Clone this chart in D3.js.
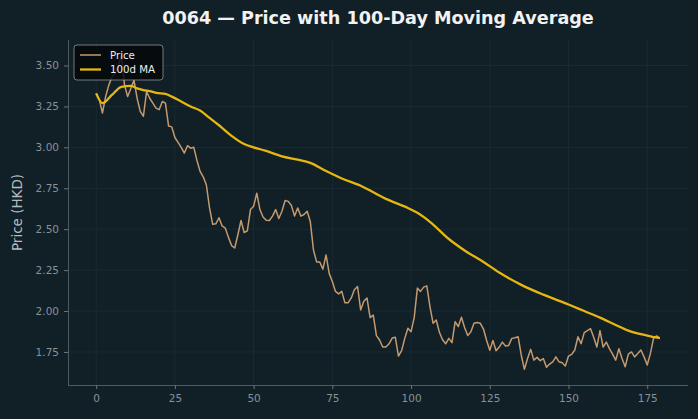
<!DOCTYPE html>
<html><head><meta charset="utf-8">
<script src="https://cdn.jsdelivr.net/npm/d3@7"></script>
<style>
html,body{margin:0;padding:0;background:#111f26;}
svg{display:block;font-family:"DejaVu Sans",sans-serif;}
</style></head><body>
<svg id="c" width="698" height="419"></svg>
<script>
const title = "0064 — Price with 100-Day Moving Average";
const yLabel = "Price (HKD)";
const seriesNames = ["Price", "100d MA"];
const price = [
3.33,3.29,3.21,3.31,3.38,3.43,3.45,3.50,3.56,3.38,
3.31,3.36,3.41,3.30,3.22,3.19,3.34,3.30,3.27,3.24,
3.23,3.28,3.27,3.13,3.125,3.06,3.03,3.00,2.965,3.01,
2.995,3.00,2.92,2.853,2.82,2.77,2.63,2.53,2.533,2.57,
2.52,2.507,2.45,2.40,2.385,2.466,2.553,2.48,2.49,2.62,
2.64,2.72,2.62,2.575,2.555,2.553,2.58,2.62,2.565,2.61,
2.675,2.67,2.645,2.58,2.63,2.58,2.59,2.61,2.547,2.374,
2.30,2.30,2.256,2.343,2.23,2.18,2.12,2.105,2.12,2.05,
2.05,2.08,2.13,2.15,2.007,2.06,2.08,1.96,1.975,1.85,
1.823,1.78,1.78,1.80,1.835,1.84,1.725,1.758,1.833,1.895,
1.874,1.96,2.14,2.12,2.146,2.154,2.027,1.925,1.945,1.87,
1.825,1.80,1.833,1.807,1.935,1.905,1.962,1.90,1.85,1.874,
1.925,1.93,1.925,1.89,1.82,1.76,1.82,1.758,1.78,1.81,
1.786,1.79,1.833,1.837,1.843,1.73,1.644,1.71,1.766,1.70,
1.717,1.697,1.71,1.656,1.676,1.69,1.72,1.69,1.684,1.664,
1.725,1.735,1.762,1.843,1.80,1.868,1.88,1.892,1.84,1.78,
1.88,1.78,1.81,1.77,1.737,1.70,1.77,1.71,1.66,1.737,
1.75,1.72,1.74,1.762,1.72,1.67,1.74,1.833,1.848,1.833
];
const maDays = [0,2,5,8,11,13,15,17,19,22,24,27,30,33,36,39,43,47,50,54,59,64,68,73,78,84,92,99,102,106,112,117,123,128,135,142,150,155,160,165,169,175,179];
const maValues = [3.33,3.27,3.32,3.37,3.375,3.36,3.35,3.343,3.333,3.327,3.31,3.28,3.25,3.225,3.18,3.135,3.07,3.02,3.00,2.978,2.945,2.925,2.905,2.855,2.81,2.765,2.685,2.63,2.60,2.545,2.44,2.37,2.30,2.235,2.16,2.10,2.04,2.00,1.96,1.915,1.88,1.85,1.834];
const xTicks = [0,25,50,75,100,125,150,175];
const yTicks = [1.75,2.00,2.25,2.50,2.75,3.00,3.25,3.50];

const svg = d3.select("#c");
const L=68, R=688, T=40, B=385;
const n = price.length;
const x = d3.scaleLinear().domain([-(n-1)*0.05,(n-1)*1.05]).range([L,R]);
const ymin = d3.min(price), ymax = d3.max(price), yr = ymax-ymin;
const y = d3.scaleLinear().domain([ymin-0.05*yr, ymax+0.05*yr]).range([B,T]);

// grid
const g = svg.append("g");
g.selectAll(".gx").data(xTicks).enter().append("line")
 .attr("x1",d=>x(d)).attr("x2",d=>x(d)).attr("y1",T).attr("y2",B)
 .attr("stroke","#1d2d35").attr("stroke-width",0.8);
g.selectAll(".gy").data(yTicks).enter().append("line")
 .attr("x1",L).attr("x2",R).attr("y1",d=>y(d)).attr("y2",d=>y(d))
 .attr("stroke","#1d2d35").attr("stroke-width",0.8);

// axes
const xAxis = svg.append("g").attr("transform",`translate(0,${B})`)
 .call(d3.axisBottom(x).tickValues(xTicks).tickFormat(d3.format("d")).tickSizeOuter(0).tickSize(4).tickPadding(6));
const yAxis = svg.append("g").attr("transform",`translate(${L},0)`)
 .call(d3.axisLeft(y).tickValues(yTicks).tickFormat(d3.format(".2f")).tickSizeOuter(0).tickSize(4).tickPadding(5));
[xAxis,yAxis].forEach(a=>{
  a.select(".domain").attr("stroke","#4d5a60").attr("stroke-width",1);
  a.selectAll(".tick line").attr("stroke","#6b767b");
  a.selectAll(".tick text").attr("fill","#86929a").attr("font-size","10.5px").attr("font-family","DejaVu Sans");
});
xAxis.select(".domain").attr("d",`M${L},0.5H${R}`);
yAxis.select(".domain").attr("d",`M0.5,${T}V${B}`);

// lines
const priceLine = d3.line().x((d,i)=>x(i)).y(d=>y(d));
svg.append("path").datum(price).attr("d",priceLine)
 .attr("fill","none").attr("stroke","#c49a70").attr("stroke-width",1.5).attr("stroke-linejoin","round");
const maData = maDays.map((d,i)=>[d,maValues[i]]);
const maLine = d3.line().x(d=>x(d[0])).y(d=>y(d[1])).curve(d3.curveMonotoneX);
svg.append("path").datum(maData).attr("d",maLine)
 .attr("fill","none").attr("stroke","#e6b711").attr("stroke-width",2.3).attr("stroke-linejoin","round");

// title
svg.append("text").attr("x",(L+R)/2).attr("y",24).attr("text-anchor","middle")
 .attr("fill","#f2f2f2").attr("font-weight","bold").attr("font-size","17.6px").text(title);
// y label
svg.append("text").attr("transform",`translate(22,${(T+B)/2}) rotate(-90)`).attr("text-anchor","middle")
 .attr("fill","#b3bcc0").attr("font-size","13.5px").text(yLabel);

// legend
const lg = svg.append("g").attr("transform","translate(74,45)");
lg.append("rect").attr("width",89).attr("height",35).attr("rx",3)
 .attr("fill","#050809").attr("fill-opacity",0.85).attr("stroke","#8d9599").attr("stroke-width",0.8);
const lcol = ["#c49a70","#e6b711"], lw=[1.5,2.3];
seriesNames.forEach((s,i)=>{
  const yy = 10+i*14.5;
  lg.append("line").attr("x1",6).attr("x2",27).attr("y1",yy).attr("y2",yy).attr("stroke",lcol[i]).attr("stroke-width",lw[i]);
  lg.append("text").attr("x",36).attr("y",yy+3.5).attr("fill","#eeeeee").attr("font-size","10.2px").text(s);
});
</script>
</body></html>
